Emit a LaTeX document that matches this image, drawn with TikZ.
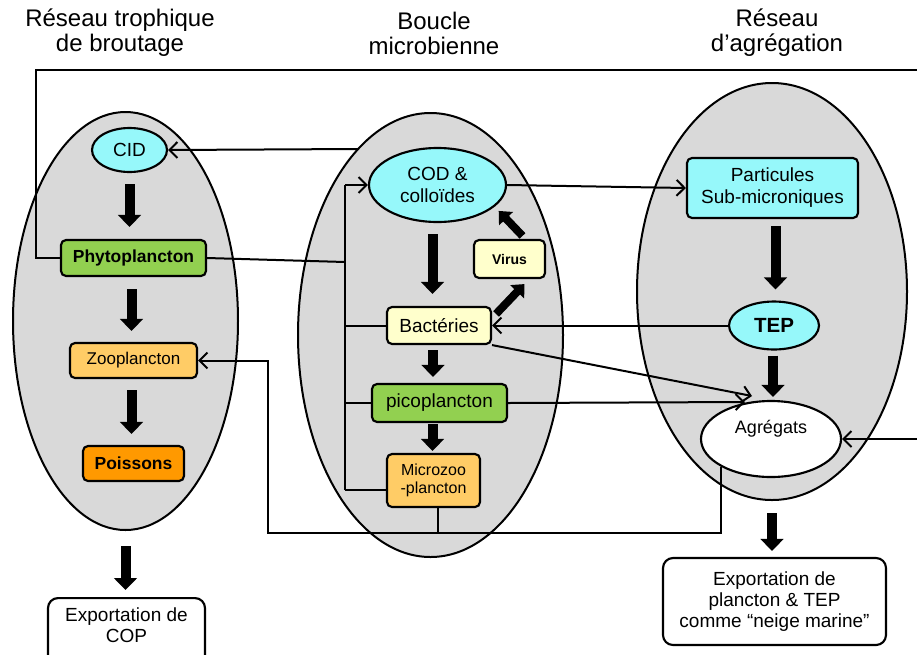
\documentclass[tikz,border=0pt]{standalone}
\usepackage{fontspec}
\setmainfont{Liberation Sans}
\usetikzlibrary{shapes.geometric,arrows.meta,calc}

% one drawing unit = 0.75pt
\newlength{\pxu}\setlength{\pxu}{0.75pt}

\definecolor{zonegray}{RGB}{217,217,217}
\definecolor{dcyan}{RGB}{150,248,250}
\definecolor{pgreen}{RGB}{146,208,80}
\definecolor{lorange}{RGB}{255,204,102}
\definecolor{dorange}{RGB}{255,153,0}
\definecolor{lyellow}{RGB}{255,255,204}

\begin{document}
\begin{tikzpicture}[x=0.75pt,y=-0.75pt,
  zone/.style={ellipse, draw, line width=1.5pt, fill=zonegray, inner sep=0pt},
  box/.style={rectangle, rounded corners=5\pxu, draw, line width=1.6pt, inner sep=0pt, align=center},
  oval/.style={ellipse, draw, line width=1.6pt, inner sep=0pt, align=center},
  exportbox/.style={box, fill=white, rounded corners=10\pxu},
  link/.style={line width=1.5pt},
  flow/.style={line width=1.5pt, -{Straight Barb[length=6pt,width=12pt,line width=1.5pt]}},
  fat/.style={line width=7.5pt, -{Triangle[length=9pt,width=17pt]}},
  fatsmall/.style={line width=6pt, -{Triangle[length=8pt,width=14pt]}},
  title/.style={align=center, font=\fontsize{18pt}{18.75pt}\selectfont},
  fA/.style={font=\fontsize{14.25pt}{16.5pt}\selectfont},
  fB/.style={font=\fontsize{13.1pt}{15pt}\selectfont\bfseries},
  fC/.style={font=\fontsize{12.75pt}{15pt}\selectfont},
  fD/.style={font=\fontsize{10.5pt}{12pt}\selectfont\bfseries},
  fE/.style={font=\fontsize{12pt}{13.5pt}\selectfont},
  fF/.style={font=\fontsize{15.4pt}{17pt}\selectfont\bfseries},
  fG/.style={font=\fontsize{13.5pt}{15pt}\selectfont},
  fH/.style={font=\fontsize{14.25pt}{15.75pt}\selectfont},
]
\useasboundingbox (0,0) rectangle (917,654);

% column titles
\node[title] (t1) at (120,33) {Réseau trophique\\de broutage};
\node[title] (t2) at (434,33) {Boucle\\microbienne};
\node[title] (t3) at (777,33) {Réseau\\d’agrégation};

% the three compartments
\node[zone, minimum width=225\pxu, minimum height=418\pxu] (e1) at (125.5,321) {};
\node[zone, minimum width=265\pxu, minimum height=444\pxu] (e2) at (430.5,335) {};
\node[zone, minimum width=270\pxu, minimum height=417\pxu] (e3) at (772,291.5) {};

% grazing food web
\node[oval, fill=dcyan, minimum width=75\pxu, minimum height=44\pxu, fA] (cid) at (129.5,150) {CID};
\node[box, fill=pgreen, minimum width=145\pxu, minimum height=36\pxu, fB] (phyto) at (133.5,258) {Phytoplancton};
\node[box, fill=lorange, minimum width=127\pxu, minimum height=35\pxu, fC] (zoo) at (133.5,360.5) {Zooplancton};
\node[box, fill=dorange, minimum width=101\pxu, minimum height=35\pxu, fB] (fish) at (133.5,463.5) {Poissons};

% microbial loop
\node[oval, fill=dcyan, minimum width=137\pxu, minimum height=74\pxu, fA] (cod) at (437.5,185) {COD \&\\colloïdes};
\node[box, fill=lyellow, minimum width=71\pxu, minimum height=38\pxu, fD] (virus) at (509.5,259) {Virus};
\node[box, fill=lyellow, minimum width=104\pxu, minimum height=37\pxu, fA] (bact) at (439,325.5) {Bactéries};
\node[box, fill=pgreen, minimum width=135\pxu, minimum height=38\pxu, fA] (pico) at (439.5,403) {picoplancton};
\node[box, fill=lorange, minimum width=93\pxu, minimum height=53\pxu, fE] (micro) at (433.5,480.5) {Microzoo\\-plancton};

% aggregation web
\node[box, fill=dcyan, minimum width=171\pxu, minimum height=60\pxu, fA] (part) at (772.5,188) {Particules\\Sub-microniques};
\node[oval, fill=dcyan, minimum width=90\pxu, minimum height=48\pxu, fF] (tep) at (774,325.5) {TEP};
\node[oval, fill=white, minimum width=140\pxu, minimum height=76\pxu, fG] (agr) at (771,439) {\raisebox{24\pxu}{Agrégats}};

% exports
\node[exportbox, minimum width=157\pxu, anchor=north, inner ysep=10\pxu, fH] (cop) at (126.5,597) {Exportation de\\COP\\[4\pxu]};
\node[exportbox, minimum width=223\pxu, minimum height=87\pxu, fH] (snow) at (774.5,601.5) {Exportation de\\plancton \& TEP\\comme “neige marine”};

% main fluxes
\draw[fat, shorten <=11\pxu, shorten >=12\pxu] (cid.south) -- (cid.south |- phyto.north);
\draw[fat, shorten <=12\pxu, shorten >=11\pxu] ($(phyto.south)+(-2,0)$) -- ($(zoo.north)+(-2,0)$);
\draw[fat, shorten <=11\pxu, shorten >=11\pxu] ($(zoo.south)+(-2,0)$) -- ($(fish.north)+(-2,0)$);
\draw[fat, shorten <=11\pxu, shorten >=12\pxu] ($(cod.south)+(-5,0)$) -- ($(cod.south |- bact.north)+(-5,0)$);
\draw[fat, shorten <=5\pxu, shorten >=6\pxu] ($(bact.south)+(-6,0)$) -- ($(bact.south |- pico.north)+(-6,0)$);
\draw[fat, shorten <=1\pxu, shorten >=2\pxu] ($(pico.south)+(-7,0)$) -- ($(pico.south |- micro.north)+(-7,0)$);
\draw[fat, shorten <=7\pxu, shorten >=11\pxu] ($(part.south)+(3,0)$) -- ($(part.south |- tep.north)+(3,0)$);
\draw[fat, shorten <=5\pxu, shorten >=3\pxu] ($(tep.south)+(-1,0)$) -- ($(tep.south |- agr.north)+(-1,0)$);
\draw[fat, shorten <=15\pxu, shorten >=7\pxu] (e1.south) -- (e1.south |- cop.north);
\draw[fat, shorten <=12\pxu, shorten >=6\pxu] (e3.south) -- (e3.south |- snow.north);
\draw[fatsmall] ($(bact.north east)+(4,8)$) -- ($(virus.south)+(15,5)$);
\draw[fatsmall] ($(virus.north)+(13,-3)$) -- ($(cod.south east)+(12,-1)$);

% recycling loop over the top
\coordinate (loopL) at (36,70);
\coordinate (loopR) at (917,70);
\draw[link] (phyto.west) -| (loopL) -- (loopR);
\coordinate (feedR) at (917,439);
\draw[flow] (feedR) -- (agr.east);

% dissolved inorganic carbon return
\coordinate (cidsrc) at (358,149);
\draw[flow] (cidsrc) -- (cid.east);

% collector feeding the DOC pool
\coordinate (busT) at (345,185);
\coordinate (busB) at (345,490);
\coordinate (busP) at (345,262);
\draw[link] (phyto.east) -- (busP);
\draw[link] (busB) -- (busT);
\draw[flow] (busT) -- (cod.west);
\draw[link] (bact.west) -- (bact.west -| busT);
\draw[link] (pico.west) -- (pico.west -| busT);
\draw[link] (busB) -- (busB -| micro.west);

% bottom return to zooplankton
\coordinate (zL) at (268,533);
\draw[link] ($(micro.south)+(4.5,0)$) -- ($(micro.south |- zL)+(4.5,0)$);
\draw[flow] (agr.south west) |- (zL) |- (zoo.east);

% links towards the aggregation web
\draw[flow] (tep.west) -- (bact.east);
\coordinate (aggIn1) at (752,396);
\draw[flow] (bact.south east) -- (aggIn1);
\coordinate (aggIn2) at (745,402);
\draw[flow] (pico.east) -- (aggIn2);
\draw[flow] (cod.east) -- (part.west);
\end{tikzpicture}
\end{document}
